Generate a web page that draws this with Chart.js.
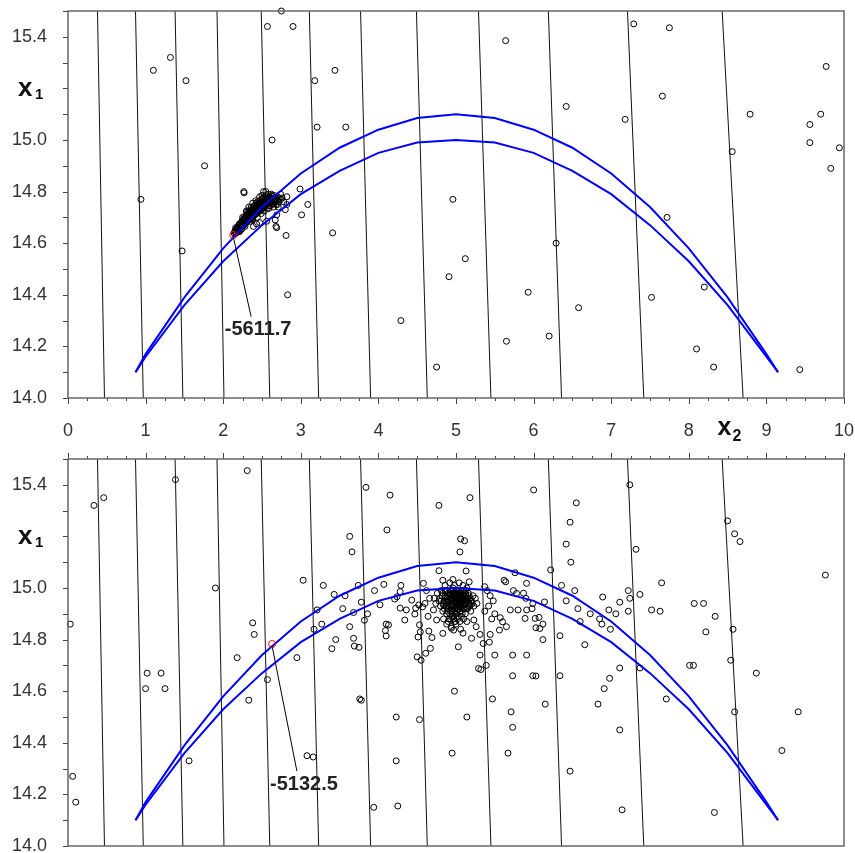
<!DOCTYPE html>
<html>
<head>
<meta charset="utf-8">
<script src="https://cdn.jsdelivr.net/npm/chart.js@4.4.0/dist/chart.umd.min.js"></script>
<style>
body { margin: 0; background: #fff; }
canvas { position: absolute; left: 0; }
#chartTop { top: 0; }
#chartBottom { top: 445px; }
</style>
</head>
<body>
<canvas id="chartTop" width="855" height="445"></canvas>
<canvas id="chartBottom" width="855" height="408"></canvas>
<script>
// axis tick labels
const xLabels = [0, 1, 2, 3, 4, 5, 6, 7, 8, 9, 10];
const yLabels = [14.0, 14.2, 14.4, 14.6, 14.8, 15.0, 15.4];

// near-vertical contour lines: x at the top (x1=15.5) and at the bottom (x1=14.0)
const contourTopX = [0.38, 0.87, 1.38, 1.92, 2.49, 3.11, 3.77, 4.49, 5.29, 6.19, 7.21, 8.43];
const contourBottomX = [0.47, 0.97, 1.48, 2.01, 2.60, 3.23, 3.90, 4.63, 5.45, 6.36, 7.42, 8.70];

// blue boundary curves
const curveX = [0.87, 1, 1.5, 2, 2.5, 3, 3.5, 4, 4.5, 5, 5.5, 6, 6.5, 7, 7.5, 8, 8.5, 9, 9.15];
const upperY = [14.10, 14.17, 14.39, 14.58, 14.74, 14.87, 14.97, 15.04, 15.085, 15.10, 15.085, 15.04, 14.97, 14.87, 14.74, 14.58, 14.39, 14.17, 14.10];
const lowerY = [14.10, 14.16, 14.36, 14.53, 14.67, 14.79, 14.88, 14.95, 14.99, 15.00, 14.99, 14.95, 14.88, 14.79, 14.67, 14.53, 14.36, 14.16, 14.10];

// top panel samples
const topPoints = [
  [0.94,14.77],[1.10,15.27],[1.32,15.32],[1.52,15.23],[1.76,14.90],[1.47,14.57],[2.265,14.80],[2.27,14.795],
  [2.57,15.44],[2.75,15.50],[2.90,15.44],[2.63,15.00],[3.18,15.23],[3.44,15.27],[3.21,15.05],[3.58,15.05],
  [2.99,14.81],[3.09,14.75],[3.01,14.71],[3.41,14.64],[2.81,14.63],[2.83,14.40],[2.69,14.66],
  [4.29,14.30],[4.75,14.12],[4.96,14.77],[4.91,14.47],[5.12,14.54],[5.64,15.385],[5.65,14.22],[5.93,14.41],
  [6.20,14.24],[6.29,14.60],[6.42,15.13],[6.58,14.35],[7.29,15.45],[7.75,15.435],[9.77,15.285],[7.66,15.17],
  [8.79,15.10],[9.70,15.10],[7.18,15.08],[9.56,15.06],[9.56,14.99],[9.94,14.97],[8.56,14.955],[9.83,14.89],
  [7.72,14.70],[8.20,14.43],[7.52,14.39],[8.10,14.19],[8.32,14.12],[9.43,14.11]
];
const topCluster = [
  [2.14,14.64],[2.15,14.645],[2.16,14.65],[2.17,14.64],[2.17,14.655],[2.18,14.65],[2.19,14.66],[2.19,14.645],
  [2.20,14.655],[2.20,14.67],[2.21,14.66],[2.22,14.665],[2.22,14.65],[2.23,14.67],[2.23,14.68],[2.24,14.665],
  [2.25,14.675],[2.25,14.69],[2.26,14.68],[2.27,14.67],[2.27,14.69],[2.28,14.685],[2.29,14.70],[2.29,14.68],
  [2.30,14.69],[2.31,14.705],[2.31,14.685],[2.32,14.70],[2.33,14.71],[2.33,14.69],[2.34,14.705],[2.35,14.72],
  [2.35,14.70],[2.36,14.71],[2.37,14.725],[2.37,14.695],[2.38,14.715],[2.39,14.73],[2.39,14.705],[2.40,14.72],
  [2.41,14.735],[2.41,14.71],[2.42,14.725],[2.43,14.74],[2.43,14.715],[2.44,14.73],[2.45,14.745],[2.45,14.72],
  [2.46,14.735],[2.47,14.75],[2.47,14.725],[2.48,14.74],[2.49,14.755],[2.49,14.73],[2.50,14.745],[2.51,14.76],
  [2.51,14.735],[2.52,14.75],[2.53,14.765],[2.53,14.74],[2.54,14.755],[2.55,14.77],[2.55,14.745],[2.56,14.76],
  [2.57,14.775],[2.57,14.735],[2.58,14.755],[2.59,14.77],[2.60,14.745],[2.61,14.76],[2.62,14.775],[2.63,14.75],
  [2.64,14.765],[2.65,14.74],[2.66,14.76],[2.67,14.775],[2.68,14.75],[2.70,14.765],[2.72,14.775],[2.74,14.79],
  [2.74,14.77],[2.82,14.78],[2.80,14.73],[2.82,14.75],[2.71,14.74],[2.69,14.71],[2.67,14.69],[2.56,14.685],
  [2.47,14.68],[2.43,14.675],[2.39,14.665],[2.68,14.665],[2.52,14.80],[2.55,14.80],[2.58,14.775],[2.36,14.74],
  [2.30,14.72],[2.25,14.70],[2.44,14.76],[2.62,14.79],[2.66,14.785],[2.50,14.77],[2.35,14.685],[2.28,14.665],
  [2.21,14.645],[2.30,14.725],[2.33,14.74],[2.38,14.755],[2.42,14.765],[2.47,14.78],[2.50,14.785],
  [2.16,14.66],[2.21,14.675],[2.26,14.69],[2.32,14.715],[2.34,14.725],[2.40,14.745],[2.46,14.755],[2.52,14.775],
  [2.58,14.79],[2.63,14.785],[2.53,14.725],[2.59,14.735],[2.49,14.715],[2.44,14.70],[2.38,14.69],[2.60,14.76],
  [2.15,14.635],[2.18,14.66],[2.20,14.645],[2.22,14.675],[2.24,14.68],[2.24,14.655],[2.26,14.67],[2.28,14.695],
  [2.28,14.675],[2.30,14.70],[2.30,14.68],[2.32,14.69],[2.32,14.71],[2.34,14.695],[2.34,14.715],[2.36,14.70],
  [2.36,14.725],[2.38,14.70],[2.38,14.725],[2.40,14.71],[2.40,14.735],[2.42,14.715],[2.42,14.74],[2.44,14.72],
  [2.44,14.745],[2.46,14.725],[2.46,14.75],[2.48,14.73],[2.48,14.755],[2.50,14.735],[2.50,14.76],[2.52,14.74],
  [2.52,14.765],[2.54,14.745],[2.54,14.77],[2.56,14.75],[2.56,14.775],[2.58,14.745],[2.58,14.765],[2.60,14.755],
  [2.60,14.775],[2.62,14.765],[2.64,14.755],[2.64,14.78],[2.66,14.77],[2.68,14.765],[2.70,14.75],[2.70,14.78],
  [2.72,14.76],[2.76,14.775],[2.78,14.76],[2.27,14.70],[2.31,14.715],[2.35,14.73],[2.39,14.74],[2.43,14.755],
  [2.47,14.765],[2.51,14.775],[2.55,14.785],[2.59,14.78]
];

// bottom panel samples
const bottomPoints = [
  [0.03,14.86],[0.335,15.32],[0.46,15.35],[1.385,15.42],[2.31,15.455],[1.90,15.00],[0.06,14.27],[0.10,14.17],
  [1.02,14.67],[1.20,14.67],[1.00,14.61],[1.25,14.61],[1.56,14.33],[2.38,14.865],[2.40,14.82],[2.18,14.73],
  [2.57,14.645],[2.33,14.565],[2.95,14.73],[3.21,14.915],[3.17,14.84],[3.27,14.86],[3.40,14.765],[3.54,14.92],
  [3.68,14.905],[3.78,14.945],[3.82,14.875],[3.68,14.805],[3.69,14.775],[3.75,14.77],[3.78,14.565],[3.16,14.345],
  [3.03,15.03],[3.29,15.01],[3.43,14.975],[3.57,14.97],[3.74,15.01],[3.95,14.99],[4.02,14.935],[3.86,14.90],
  [3.63,14.85],[3.45,14.80],[3.84,15.39],[4.15,15.36],[4.78,15.32],[5.18,15.35],[6.00,15.38],[7.24,15.40],
  [6.55,15.33],[6.47,15.255],[3.63,15.20],[4.11,15.225],[5.06,15.19],[6.42,15.17],[6.48,15.10],[3.66,15.14],
  [8.50,15.26],[8.59,15.21],[8.66,15.18],[7.32,15.15],[9.76,15.05],[8.07,14.94],[8.19,14.94],[8.34,14.89],
  [8.22,14.83],[8.01,14.70],[8.06,14.70],[8.57,14.84],[8.54,14.72],[8.59,14.52],[8.87,14.67],[9.20,14.37],
  [9.41,14.52],[8.33,14.13],[7.37,14.69],[7.71,14.57],[7.65,15.02],[7.63,14.91],[7.22,14.91],[7.24,14.96],
  [7.22,14.99],[7.11,14.45],[7.14,14.14],[6.88,14.86],[6.99,14.84],[7.06,14.90],[6.91,14.61],[6.98,14.65],
  [7.11,14.69],[6.83,14.55],[6.47,14.29],[6.36,15.01],[6.42,14.95],[6.53,14.99],[6.57,14.92],[6.60,14.87],
  [6.73,14.90],[6.85,14.88],[6.89,14.965],[6.97,14.915],[7.11,14.945],[7.37,14.975],[7.52,14.915],[6.34,14.815],
  [6.66,14.78],[5.99,14.66],[6.34,14.66],[6.15,14.55],[5.47,14.57],[5.73,14.46],[5.71,14.52],[5.67,14.36],
  [4.98,14.60],[4.95,14.36],[5.14,14.50],[4.55,14.72],[4.53,14.49],[4.23,14.50],[4.23,14.33],[4.25,14.155],
  [3.94,14.15],[3.76,14.57],[3.08,14.35],[4.07,15.014],[4.29,15.01],[4.28,14.986],[4.24,14.966],[4.43,14.953],
  [4.21,14.957],[4.28,14.922],[4.36,14.915],[4.48,14.922],[4.52,14.934],[4.57,14.927],[4.34,14.876],[4.47,14.899],
  [4.53,14.857],[4.10,14.86],[4.13,14.857],[4.09,14.835],[4.10,14.814],[4.51,14.81],[4.54,14.83],[4.50,14.733],
  [4.65,14.833],[4.69,14.808],[4.67,14.766],[4.61,14.747],[4.78,15.067],[4.83,14.824],[4.97,14.837],[5.03,14.772],
  [5.06,14.84],[5.05,15.14],[5.11,15.183],[5.13,15.066],[5.20,14.805],[5.31,14.82],[5.31,14.74],[5.29,14.688],
  [5.32,14.684],[5.39,14.70],[5.35,14.785],[5.43,14.79],[5.44,14.82],[5.57,14.885],[5.56,14.837],[5.50,14.74],
  [5.73,14.74],[5.91,14.74],[5.62,15.03],[5.64,15.024],[5.76,15.059],[5.91,15.018],[5.74,14.99],[5.78,14.979],
  [5.87,14.98],[5.90,14.96],[5.99,14.94],[5.98,14.92],[6.14,14.946],[6.22,15.07],[5.60,14.869],[5.65,14.85],
  [5.70,14.915],[5.80,14.915],[5.89,14.882],[5.91,14.915],[6.02,14.882],[6.07,14.886],[6.03,14.846],[6.08,14.843],
  [6.12,14.86],[6.12,14.80],[5.73,14.66],[6.03,14.659],[4.58,15.018],[4.83,15.03],[4.96,15.033],[5.17,15.024],
  [5.37,15.005],[5.40,14.99],[5.44,14.97],[5.48,14.95],[5.42,14.93],[5.37,14.91],[5.50,14.90],[5.46,14.88],
  [4.62,14.99],[4.66,14.96],[4.60,14.94],[4.71,14.915],[4.64,14.89],[4.75,14.876],[4.90,14.87],[4.94,14.844],
  [4.99,14.87],[5.14,14.87],[5.23,14.876],[5.26,14.85],[5.09,14.825]
];
const bottomCluster = [
  [4.78,14.95],[4.80,14.93],[4.82,14.97],[4.83,14.91],[4.85,14.95],[4.86,14.99],[4.87,14.93],[4.88,14.90],
  [4.89,14.96],[4.90,14.98],[4.90,14.92],[4.91,14.88],[4.92,14.95],[4.93,14.99],[4.93,14.91],[4.94,14.97],
  [4.95,14.93],[4.95,14.89],[4.96,14.96],[4.96,15.00],[4.97,14.94],[4.97,14.91],[4.98,14.98],[4.98,14.87],
  [4.99,14.95],[4.99,14.92],[5.00,14.97],[5.00,14.99],[5.00,14.90],[5.01,14.94],[5.01,14.96],[5.02,14.98],
  [5.02,14.92],[5.02,14.88],[5.03,14.95],[5.03,14.97],[5.04,14.93],[5.04,14.99],[5.05,14.96],[5.05,14.91],
  [5.06,14.94],[5.06,14.98],[5.07,14.95],[5.07,14.89],[5.08,14.97],[5.08,14.93],[5.09,14.95],[5.10,14.99],
  [5.10,14.92],[5.11,14.96],[5.12,14.94],[5.12,14.90],[5.13,14.97],[5.14,14.95],[5.15,14.92],[5.16,14.98],
  [5.17,14.94],[5.18,14.96],[5.19,14.91],[5.20,14.95],[5.22,14.97],[5.23,14.93],[5.25,14.96],[5.27,14.94],
  [4.76,14.98],[4.74,14.94],[4.72,14.96],[4.84,14.88],[4.88,14.86],[4.94,14.85],[5.00,14.86],[5.05,14.87],
  [5.10,14.88],[4.86,15.01],[4.92,15.02],[4.98,15.01],[5.04,15.02],[5.09,15.01],[5.14,15.00],[4.81,14.99],
  [4.96,14.955],[5.015,14.945],[4.985,14.965],[5.035,14.955],[4.955,14.975],[5.065,14.965],[4.925,14.935],
  [5.095,14.935],[4.895,14.945],[5.125,14.975],[4.865,14.965],[5.155,14.955],[4.835,14.935],[5.185,14.935],
  [4.79,14.96],[4.81,14.95],[4.83,14.98],[4.84,14.94],[4.85,14.92],[4.86,14.97],[4.87,14.95],[4.88,14.99],
  [4.88,14.93],[4.89,14.91],[4.90,14.95],[4.91,14.97],[4.91,14.93],[4.92,14.90],[4.92,14.98],[4.93,14.96],
  [4.94,14.92],[4.94,14.99],[4.95,14.95],[4.95,14.91],[4.96,14.93],[4.96,14.98],[4.97,14.96],[4.97,14.89],
  [4.98,14.94],[4.98,14.92],[4.99,14.97],[4.99,14.90],[5.00,14.95],[5.00,14.93],[5.01,14.98],[5.01,14.91],
  [5.02,14.96],[5.02,14.94],[5.03,14.99],[5.03,14.92],[5.04,14.95],[5.04,14.97],[5.05,14.93],[5.05,14.98],
  [5.06,14.96],[5.06,14.91],[5.07,14.93],[5.07,14.97],[5.08,14.95],[5.08,14.99],[5.09,14.92],[5.09,14.97],
  [5.10,14.94],[5.10,14.96],[5.11,14.98],[5.11,14.92],[5.12,14.96],[5.13,14.94],[5.13,14.99],[5.14,14.92],
  [5.15,14.96],[5.16,14.94],[5.17,14.97],[5.18,14.93],[5.19,14.95],[5.21,14.94],[4.97,14.88],[5.03,14.89],
  [4.93,14.88],[5.08,14.90]
];

// highlighted optimum in each panel: point, label position, label text
const topMark = { x: 2.13, y: 14.632, lx: 2.45, ly: 14.265, text: '-5611.7' };
const bottomMark = { x: 2.63, y: 14.783, lx: 3.04, ly: 14.24, text: '-5132.5' };

const tickFont = { family: "'Liberation Sans', Arial, sans-serif", size: 18 };
const toXY = arr => arr.map(p => ({ x: p[0], y: p[1] }));

function buildDatasets(points, cluster, mark) {
  const sets = [];
  sets.push({ data: [{ x: mark.x, y: mark.y }], pointRadius: 3.5, borderColor: '#ff0000',
              backgroundColor: 'rgba(0,0,0,0)', borderWidth: 1, clip: false });
  sets.push({ data: curveX.map((x, i) => ({ x: x, y: upperY[i] })), showLine: true, pointRadius: 0,
              borderColor: '#0000ff', borderWidth: 2 });
  sets.push({ data: curveX.map((x, i) => ({ x: x, y: lowerY[i] })), showLine: true, pointRadius: 0,
              borderColor: '#0000ff', borderWidth: 2 });
  sets.push({ data: toXY(cluster.concat(points)), pointRadius: 3, borderColor: '#000',
              backgroundColor: 'rgba(0,0,0,0)', borderWidth: 1, clip: false });
  contourTopX.forEach((tx, i) => {
    sets.push({ data: [{ x: tx, y: 15.5 }, { x: contourBottomX[i], y: 14.0 }], showLine: true,
                pointRadius: 0, borderColor: '#111', borderWidth: 1 });
  });
  return sets;
}

// frame, tick marks, axis names and the value label
const framePlugin = {
  id: 'frame',
  afterDraw(chart, args, opts) {
    const ctx = chart.ctx, a = chart.chartArea, xs = chart.scales.x, ys = chart.scales.y;
    ctx.save();
    ctx.strokeStyle = '#444';
    ctx.lineWidth = 1;
    ctx.beginPath();
    for (let i = 0; i <= 15; i++) {
      const py = Math.round(ys.getPixelForValue(14 + i / 10)) + 0.5;
      ctx.moveTo(a.left - 5, py); ctx.lineTo(a.left, py);
    }
    const edge = opts.tickEdge === 'top' ? a.top : a.bottom;
    const dir = opts.tickEdge === 'top' ? -1 : 1;
    for (let i = 0; i <= 40; i++) {
      const px = Math.round(xs.getPixelForValue(i / 4)) + 0.5;
      const len = i % 4 === 0 ? 6 : 3;
      ctx.moveTo(px, edge); ctx.lineTo(px, edge + dir * len);
    }
    ctx.stroke();

    ctx.strokeStyle = '#666';
    ctx.lineWidth = 1.5;
    ctx.strokeRect(a.left, a.top, a.right - a.left, a.bottom - a.top);

    // x1 name
    ctx.fillStyle = '#111';
    ctx.textAlign = 'left';
    ctx.textBaseline = 'alphabetic';
    const y15 = ys.getPixelForValue(15.2);
    ctx.font = 'bold 26px "Liberation Sans", Arial, sans-serif';
    ctx.fillText('x', 18, y15 + 8);
    ctx.font = 'bold 15px "Liberation Sans", Arial, sans-serif';
    ctx.fillText('1', 35, y15 + 11);

    // x2 name
    if (opts.showX2) {
      const p = xs.getPixelForValue(8.5);
      ctx.font = 'bold 25px "Liberation Sans", Arial, sans-serif';
      ctx.fillText('x', p - 10, a.bottom + 37);
      ctx.font = 'bold 16px "Liberation Sans", Arial, sans-serif';
      ctx.fillText('2', p + 5, a.bottom + 43);
    }

    // label with leader line
    const m = opts.mark;
    const mx = xs.getPixelForValue(m.x), my = ys.getPixelForValue(m.y);
    const lx = xs.getPixelForValue(m.lx), ly = ys.getPixelForValue(m.ly);
    ctx.strokeStyle = '#000';
    ctx.lineWidth = 1;
    ctx.beginPath();
    ctx.moveTo(mx, my + 2);
    ctx.lineTo(lx - 7, ly - 13);
    ctx.stroke();
    ctx.font = 'bold 20px "Liberation Sans", Arial, sans-serif';
    ctx.fillStyle = '#222';
    ctx.textAlign = 'center';
    ctx.textBaseline = 'middle';
    ctx.fillText(m.text, lx, ly);
    ctx.restore();
  }
};

function makeChart(id, points, cluster, mark, isTop) {
  return new Chart(document.getElementById(id), {
    type: 'scatter',
    data: { datasets: buildDatasets(points, cluster, mark) },
    options: {
      responsive: false,
      animation: false,
      devicePixelRatio: 1,
      layout: { padding: isTop ? { top: 11, right: 11, left: 0, bottom: 0 } : { top: 14, right: 11, left: 0, bottom: 7 } },
      plugins: {
        legend: { display: false },
        tooltip: { enabled: false },
        frame: { mark: mark, tickEdge: isTop ? 'bottom' : 'top', showX2: isTop }
      },
      scales: {
        x: {
          type: 'linear', min: 0, max: 10, display: isTop,
          afterBuildTicks: s => { s.ticks = xLabels.map(v => ({ value: v })); },
          afterFit: s => {
            s.height = isTop ? 47 : 0;
            s.paddingLeft = 0; s.paddingRight = 0;
          },
          ticks: { autoSkip: false, maxRotation: 0, padding: 22, font: tickFont, color: '#333',
                   callback: v => String(v) },
          grid: { display: false, drawTicks: false },
          border: { display: false }
        },
        y: {
          type: 'linear', min: 14.0, max: 15.5,
          afterBuildTicks: s => { s.ticks = yLabels.map(v => ({ value: v })); },
          afterFit: s => {
            s.width = 68;
            s.paddingTop = 0; s.paddingBottom = 0;
          },
          ticks: { padding: 21, font: tickFont, color: '#333', callback: v => v.toFixed(1) },
          grid: { display: false, drawTicks: false },
          border: { display: false }
        }
      }
    },
    plugins: [framePlugin]
  });
}

makeChart('chartTop', topPoints, topCluster, topMark, true);
makeChart('chartBottom', bottomPoints, bottomCluster, bottomMark, false);
</script>
</body>
</html>
